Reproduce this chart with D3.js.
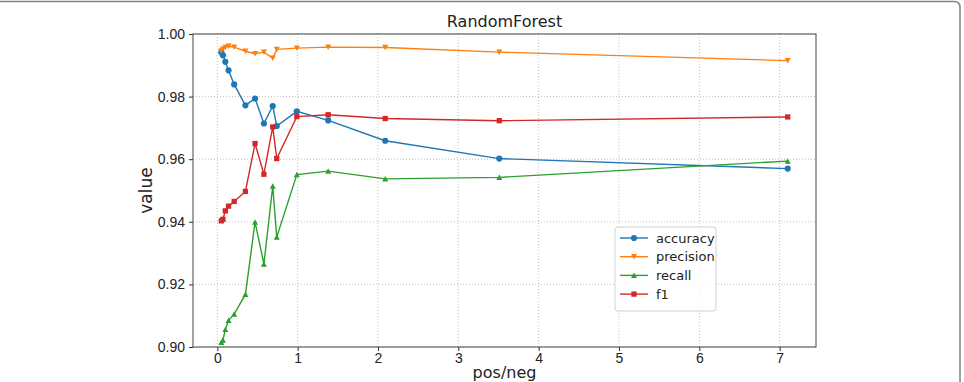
<!DOCTYPE html>
<html>
<head>
<meta charset="utf-8">
<script src="https://cdn.jsdelivr.net/npm/d3@7"></script>
<style>
  html, body { margin: 0; padding: 0; background: #fff; }
  svg { display: block; font-family: "DejaVu Sans", sans-serif; }
</style>
</head>
<body>
<svg id="chart" width="964" height="382"></svg>
<script>

// Data
var posNeg    = [0.05, 0.07, 0.1, 0.14, 0.21, 0.35, 0.47, 0.58, 0.69, 0.74, 0.99, 1.38, 2.09, 3.51, 7.1];
var accuracy  = [0.9942, 0.9932, 0.9911, 0.9884, 0.9839, 0.9772, 0.9794, 0.9714, 0.9770, 0.9706, 0.9753, 0.9724, 0.9659, 0.9602, 0.9570];
var precision = [0.9946, 0.9952, 0.9957, 0.9961, 0.9958, 0.9945, 0.9937, 0.9942, 0.9923, 0.9951, 0.9955, 0.9958, 0.9957, 0.9942, 0.9915];
var recall    = [0.9015, 0.9022, 0.9056, 0.9085, 0.9105, 0.9168, 0.9399, 0.9265, 0.9514, 0.9351, 0.9551, 0.9562, 0.9537, 0.9542, 0.9594];
var f1        = [0.9403, 0.9408, 0.9435, 0.9450, 0.9465, 0.9497, 0.9650, 0.9552, 0.9703, 0.9602, 0.9736, 0.9742, 0.9730, 0.9723, 0.9735];

var xTicks = [0, 1, 2, 3, 4, 5, 6, 7];
var yTicks = [0.90, 0.92, 0.94, 0.96, 0.98, 1.00];

var seriesNames  = ["accuracy", "precision", "recall", "f1"];
var seriesValues = [accuracy, precision, recall, f1];
var seriesColors = ["#1f77b4", "#ff7f0e", "#2ca02c", "#d62728"];
var seriesMarks  = ["circle", "down", "up", "square"];

(function(){

    var svg = d3.select("#chart");

    // Plot area (note: "top" is taken by window.top, so use plot* names)
    var plotLeft = 193, plotTop = 34, plotRight = 816, plotBottom = 347;

    // matplotlib style 5% margins on x
    var xMin = d3.min(posNeg), xMax = d3.max(posNeg), pad = (xMax - xMin) * 0.05;
    var x = d3.scaleLinear().domain([xMin - pad, xMax + pad]).range([plotLeft, plotRight]);
    var y = d3.scaleLinear().domain([0.90, 1.00]).range([plotBottom, plotTop]);

    // Outer frame (top edge and right edge with rounded corner)
    svg.append("path")
       .attr("d", "M0,1.5 L954,1.5 Q960,1.5 960,7.5 L960,382")
       .attr("fill", "none")
       .attr("stroke", "#808080")
       .attr("stroke-width", 1.5);

    // Grid
    var grid = svg.append("g").attr("class", "grid");
    grid.selectAll("line.gx").data(xTicks).enter().append("line")
        .attr("class", "gx")
        .attr("x1", function(d){ return x(d); }).attr("x2", function(d){ return x(d); })
        .attr("y1", plotTop).attr("y2", plotBottom);
    grid.selectAll("line.gy").data(yTicks).enter().append("line")
        .attr("class", "gy")
        .attr("x1", plotLeft).attr("x2", plotRight)
        .attr("y1", function(d){ return y(d); }).attr("y2", function(d){ return y(d); });
    grid.selectAll("line")
        .attr("stroke", "#b0b0b0")
        .attr("stroke-width", 0.8)
        .attr("stroke-dasharray", "1,2");

    // Axes
    var xAxis = svg.append("g")
                   .attr("transform", "translate(0," + plotBottom + ")")
                   .call(d3.axisBottom(x).tickValues(xTicks).tickFormat(d3.format("d")).tickSizeOuter(0).tickSize(4).tickPadding(2));
    var yAxis = svg.append("g")
                   .attr("transform", "translate(" + plotLeft + ",0)")
                   .call(d3.axisLeft(y).tickValues(yTicks).tickFormat(d3.format(".2f")).tickSizeOuter(0).tickSize(4).tickPadding(4));
    [xAxis, yAxis].forEach(function(a){
        a.select(".domain").remove();
        a.selectAll("line").attr("stroke", "#333");
        a.selectAll("text").attr("fill", "#222").style("font-size", "14px");
    });

    // Spines
    svg.append("rect")
       .attr("x", plotLeft).attr("y", plotTop)
       .attr("width", plotRight - plotLeft).attr("height", plotBottom - plotTop)
       .attr("fill", "none")
       .attr("stroke", "#444")
       .attr("stroke-width", 1);

    // Titles
    svg.append("text")
       .attr("x", (plotLeft + plotRight) / 2).attr("y", 27)
       .attr("text-anchor", "middle")
       .attr("fill", "#222")
       .style("font-size", "16px")
       .text("RandomForest");
    svg.append("text")
       .attr("x", (plotLeft + plotRight) / 2).attr("y", 378)
       .attr("text-anchor", "middle")
       .attr("fill", "#222")
       .style("font-size", "16px")
       .text("pos/neg");
    svg.append("text")
       .attr("transform", "translate(152," + ((plotTop + plotBottom) / 2) + ") rotate(-90)")
       .attr("text-anchor", "middle")
       .attr("fill", "#222")
       .style("font-size", "17px")
       .text("value");

    // Marker path helper
    function markerPath(kind){
        if ( kind == "down" )
            return "M-3,-2.6 L3,-2.6 L0,2.8 Z";
        if ( kind == "up" )
            return "M-3,2.6 L3,2.6 L0,-2.8 Z";
        if ( kind == "square" )
            return d3.symbol().type(d3.symbolSquare).size(28)();
        return d3.symbol().type(d3.symbolCircle).size(30)();
    }

    var line = d3.line()
                 .x(function(d){ return x(d[0]); })
                 .y(function(d){ return y(d[1]); });

    // Series lines and markers
    seriesNames.forEach(function(name, index){

        var pts = posNeg.map(function(v, i){ return [v, seriesValues[index][i]]; });
        var g = svg.append("g").attr("class", "series_" + name);

        g.append("path")
         .datum(pts)
         .attr("d", line)
         .attr("fill", "none")
         .attr("stroke", seriesColors[index])
         .attr("stroke-width", 1.4);

        g.selectAll("path.mark").data(pts).enter().append("path")
         .attr("class", "mark")
         .attr("transform", function(d){ return "translate(" + x(d[0]) + "," + y(d[1]) + ")"; })
         .attr("d", markerPath(seriesMarks[index]))
         .attr("fill", seriesColors[index]);
    });

    // Legend
    var legend = svg.append("g").attr("transform", "translate(615,227)");
    legend.append("rect")
          .attr("width", 101).attr("height", 84)
          .attr("rx", 3)
          .attr("fill", "#fff")
          .attr("fill-opacity", 0.8)
          .attr("stroke", "#d0d0d0");
    seriesNames.forEach(function(name, i){
        var row = legend.append("g").attr("transform", "translate(0," + (11 + i * 18.7) + ")");
        row.append("line")
           .attr("x1", 5).attr("x2", 33)
           .attr("stroke", seriesColors[i])
           .attr("stroke-width", 1.4);
        row.append("path")
           .attr("transform", "translate(19,0)")
           .attr("d", markerPath(seriesMarks[i]))
           .attr("fill", seriesColors[i]);
        row.append("text")
           .attr("x", 41).attr("y", 4.5)
           .attr("fill", "#222")
           .style("font-size", "13px")
           .text(name);
    });

}());

</script>
</body>
</html>
